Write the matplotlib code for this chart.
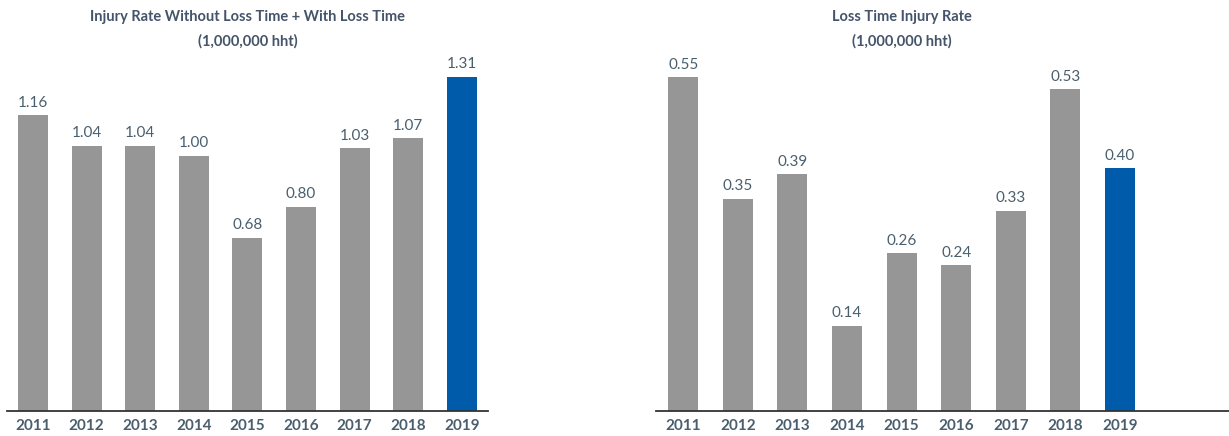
import matplotlib.pyplot as plt

# data
years = ['2011', '2012', '2013', '2014', '2015', '2016', '2017', '2018', '2019']
total_rate = [1.16, 1.04, 1.04, 1.00, 0.68, 0.80, 1.03, 1.07, 1.31]
lti_rate = [0.55, 0.35, 0.39, 0.14, 0.26, 0.24, 0.33, 0.53, 0.40]

grey = '#969696'
blue = '#005BAA'
txt = '#4A5F6E'

plt.rcParams['font.family'] = ['Lato', 'DejaVu Sans']

fig = plt.figure(figsize=(12.29, 4.36), dpi=100)
W, H = 1229, 436


def px_axes(x0, x1, y_top, y_bot):
    return fig.add_axes([x0 / W, 1 - y_bot / H, (x1 - x0) / W, (y_bot - y_top) / H])


def draw(ax, vals, title, xlim, ytop, width):
    x = range(len(vals))
    colors = [grey] * (len(vals) - 1) + [blue]
    ax.bar(x, vals, width=width, color=colors)
    for i, v in enumerate(vals):
        ax.annotate('%.2f' % v, (i, v), xytext=(0, 4), textcoords='offset points',
                    ha='center', va='bottom', fontsize=11, color=txt)
    ax.set_xlim(*xlim)
    ax.set_ylim(0, ytop)
    ax.set_xticks(list(x))
    ax.set_xticklabels(years, fontsize=11, fontweight='bold', color=txt)
    ax.tick_params(axis='x', length=0, pad=6)
    ax.set_yticks([])
    for s in ['top', 'right', 'left']:
        ax.spines[s].set_visible(False)
    ax.spines['bottom'].set_color('#333333')
    ax.spines['bottom'].set_linewidth(1.3)
    xc = (len(vals) - 1) / 2
    ax.annotate(title, (xc, 1.0), xycoords=ax.get_xaxis_transform(),
                xytext=(0, 8), textcoords='offset points', ha='center', va='bottom',
                fontsize=10.5, fontweight='bold', color='#44546A', linespacing=1.9)


ax1 = px_axes(7, 488, 60, 411)
draw(ax1, total_rate, 'Injury Rate Without Loss Time + With Loss Time\n(1,000,000 hht)',
     (-0.485, 8.49), 351 / 255, 0.56)

ax2 = px_axes(656, 1229, 60, 411)
draw(ax2, lti_rate, 'Loss Time Injury Rate\n(1,000,000 hht)',
     (-0.5, 10.0), 351 / 607, 0.55)

fig.savefig('out.png', dpi=100)
